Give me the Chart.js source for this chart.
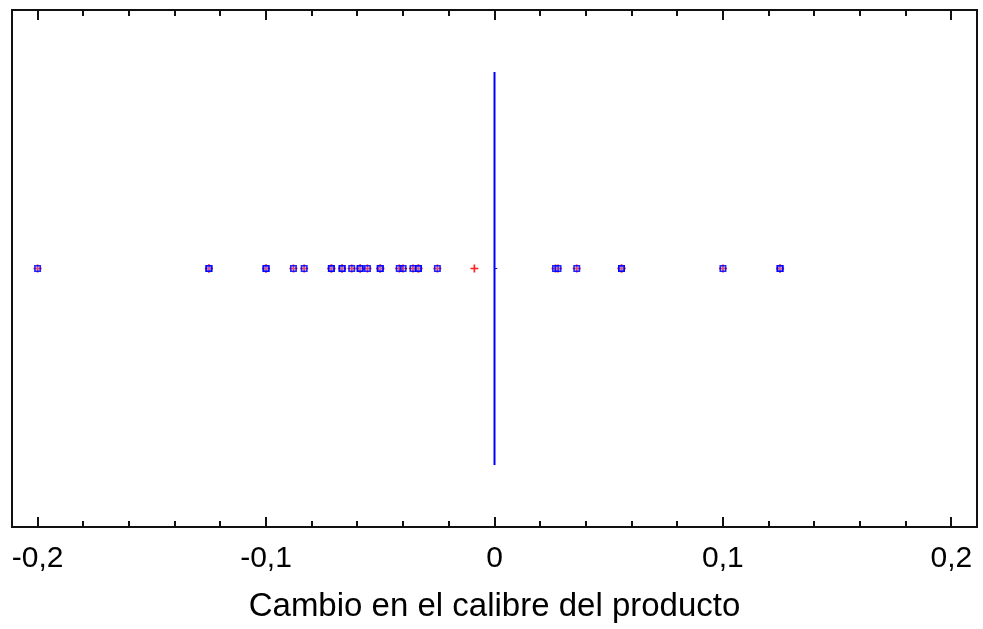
<!DOCTYPE html>
<html>
<head>
<meta charset="utf-8">
<script src="https://cdn.jsdelivr.net/npm/chart.js@4/dist/chart.umd.min.js"></script>
<style>
  html, body { margin: 0; padding: 0; background: #fff; }
  #wrap { width: 983px; height: 629px; }
</style>
</head>
<body>
<div id="wrap"><canvas id="c" width="983" height="629"></canvas></div>
<script>
// Cambio en el calibre del producto: atypical observations, median box and mean
const outliers = [
  -0.2,
  -0.125, -0.125,
  -0.1, -0.1,
  -0.088,
  -0.0833,
  -0.0714, -0.0714,
  -0.0667, -0.0667,
  -0.0625,
  -0.0588, -0.0588,
  -0.0556,
  -0.05, -0.05,
  -0.0417, -0.04,
  -0.0357,
  -0.0333, -0.0333,
  -0.025,
  0.0267, 0.0278,
  0.036,
  0.0556, 0.0556,
  0.1,
  0.125, 0.125
];
const meanValue = -0.0088;
const boxQ1 = 0;
const boxMedian = 0;
const boxQ3 = 0;
const boxBottom = 0.12;
const boxTop = 0.88;
const rowLevel = 0.5;

const xMin = -0.2112;
const xMax = 0.2112;
const majorTicks = [-0.2, -0.1, 0, 0.1, 0.2];
const minorTicks = [-0.18, -0.16, -0.14, -0.12, -0.08, -0.06, -0.04, -0.02,
                    0.02, 0.04, 0.06, 0.08, 0.12, 0.14, 0.16, 0.18];

const frameAndTicks = {
  id: 'frameAndTicks',
  afterDraw(chart) {
    const { ctx, chartArea: a, scales } = chart;
    const xs = scales.x;
    ctx.save();
    ctx.strokeStyle = '#111';
    ctx.lineWidth = 2;
    ctx.strokeRect(a.left, a.top, a.right - a.left, a.bottom - a.top);
    const drawTick = (v, len) => {
      const px = Math.round(xs.getPixelForValue(v));
      ctx.beginPath();
      ctx.moveTo(px, a.bottom);
      ctx.lineTo(px, a.bottom - len);
      ctx.moveTo(px, a.top);
      ctx.lineTo(px, a.top + len);
      ctx.stroke();
    };
    majorTicks.forEach(v => drawTick(v, 10));
    minorTicks.forEach(v => drawTick(v, 6));
    ctx.restore();
  }
};

new Chart(document.getElementById('c'), {
  type: 'scatter',
  data: {
    datasets: [
      {
        type: 'line',
        label: 'caja',
        data: [{ x: boxMedian, y: boxBottom }, { x: boxMedian, y: boxTop }],
        borderColor: '#0000ff',
        borderWidth: 2,
        pointRadius: 0,
        fill: false
      },
      {
        label: 'bigote',
        type: 'line',
        data: [{ x: boxQ1, y: rowLevel }, { x: boxQ3 + 0.0012, y: rowLevel }],
        borderColor: '#0000ff',
        borderWidth: 1,
        pointRadius: 0
      },
      {
        label: 'atípicos',
        data: outliers.map(v => ({ x: v, y: rowLevel })),
        pointStyle: 'rect',
        pointRadius: 3.8,
        borderColor: 'rgba(0,0,255,0.85)',
        backgroundColor: 'rgba(170,170,255,0.3)',
        borderWidth: 1.6
      },
      {
        label: 'atípicos +',
        data: outliers.map(v => ({ x: v, y: rowLevel })),
        pointStyle: 'cross',
        pointRadius: 4,
        borderColor: '#ff2020',
        borderWidth: 1.7
      },
      {
        label: 'media',
        data: [{ x: meanValue, y: rowLevel }],
        pointStyle: 'cross',
        pointRadius: 4,
        borderColor: '#ff2020',
        borderWidth: 1.7
      }
    ]
  },
  options: {
    responsive: false,
    animation: false,
    layout: { padding: { left: 12, right: 6, top: 10, bottom: 0 } },
    plugins: { legend: { display: false }, tooltip: { enabled: false } },
    scales: {
      x: {
        type: 'linear',
        min: xMin,
        max: xMax,
        grid: { display: false },
        border: { display: false },
        afterFit(scale) { scale.height = 102; },
        afterBuildTicks(scale) { scale.ticks = majorTicks.map(v => ({ value: v })); },
        ticks: {
          autoSkip: false,
          maxRotation: 0,
          padding: 6,
          color: '#000',
          font: { family: 'Liberation Sans, Arial, sans-serif', size: 30 },
          callback: v => String(Math.round(v * 10) / 10).replace('.', ',')
        },
        title: {
          display: true,
          text: 'Cambio en el calibre del producto',
          color: '#000',
          padding: { top: 0, bottom: 2 },
          font: { family: 'Liberation Sans, Arial, sans-serif', size: 33 }
        }
      },
      y: {
        display: false,
        min: 0,
        max: 1
      }
    }
  },
  plugins: [frameAndTicks]
});
</script>
</body>
</html>
